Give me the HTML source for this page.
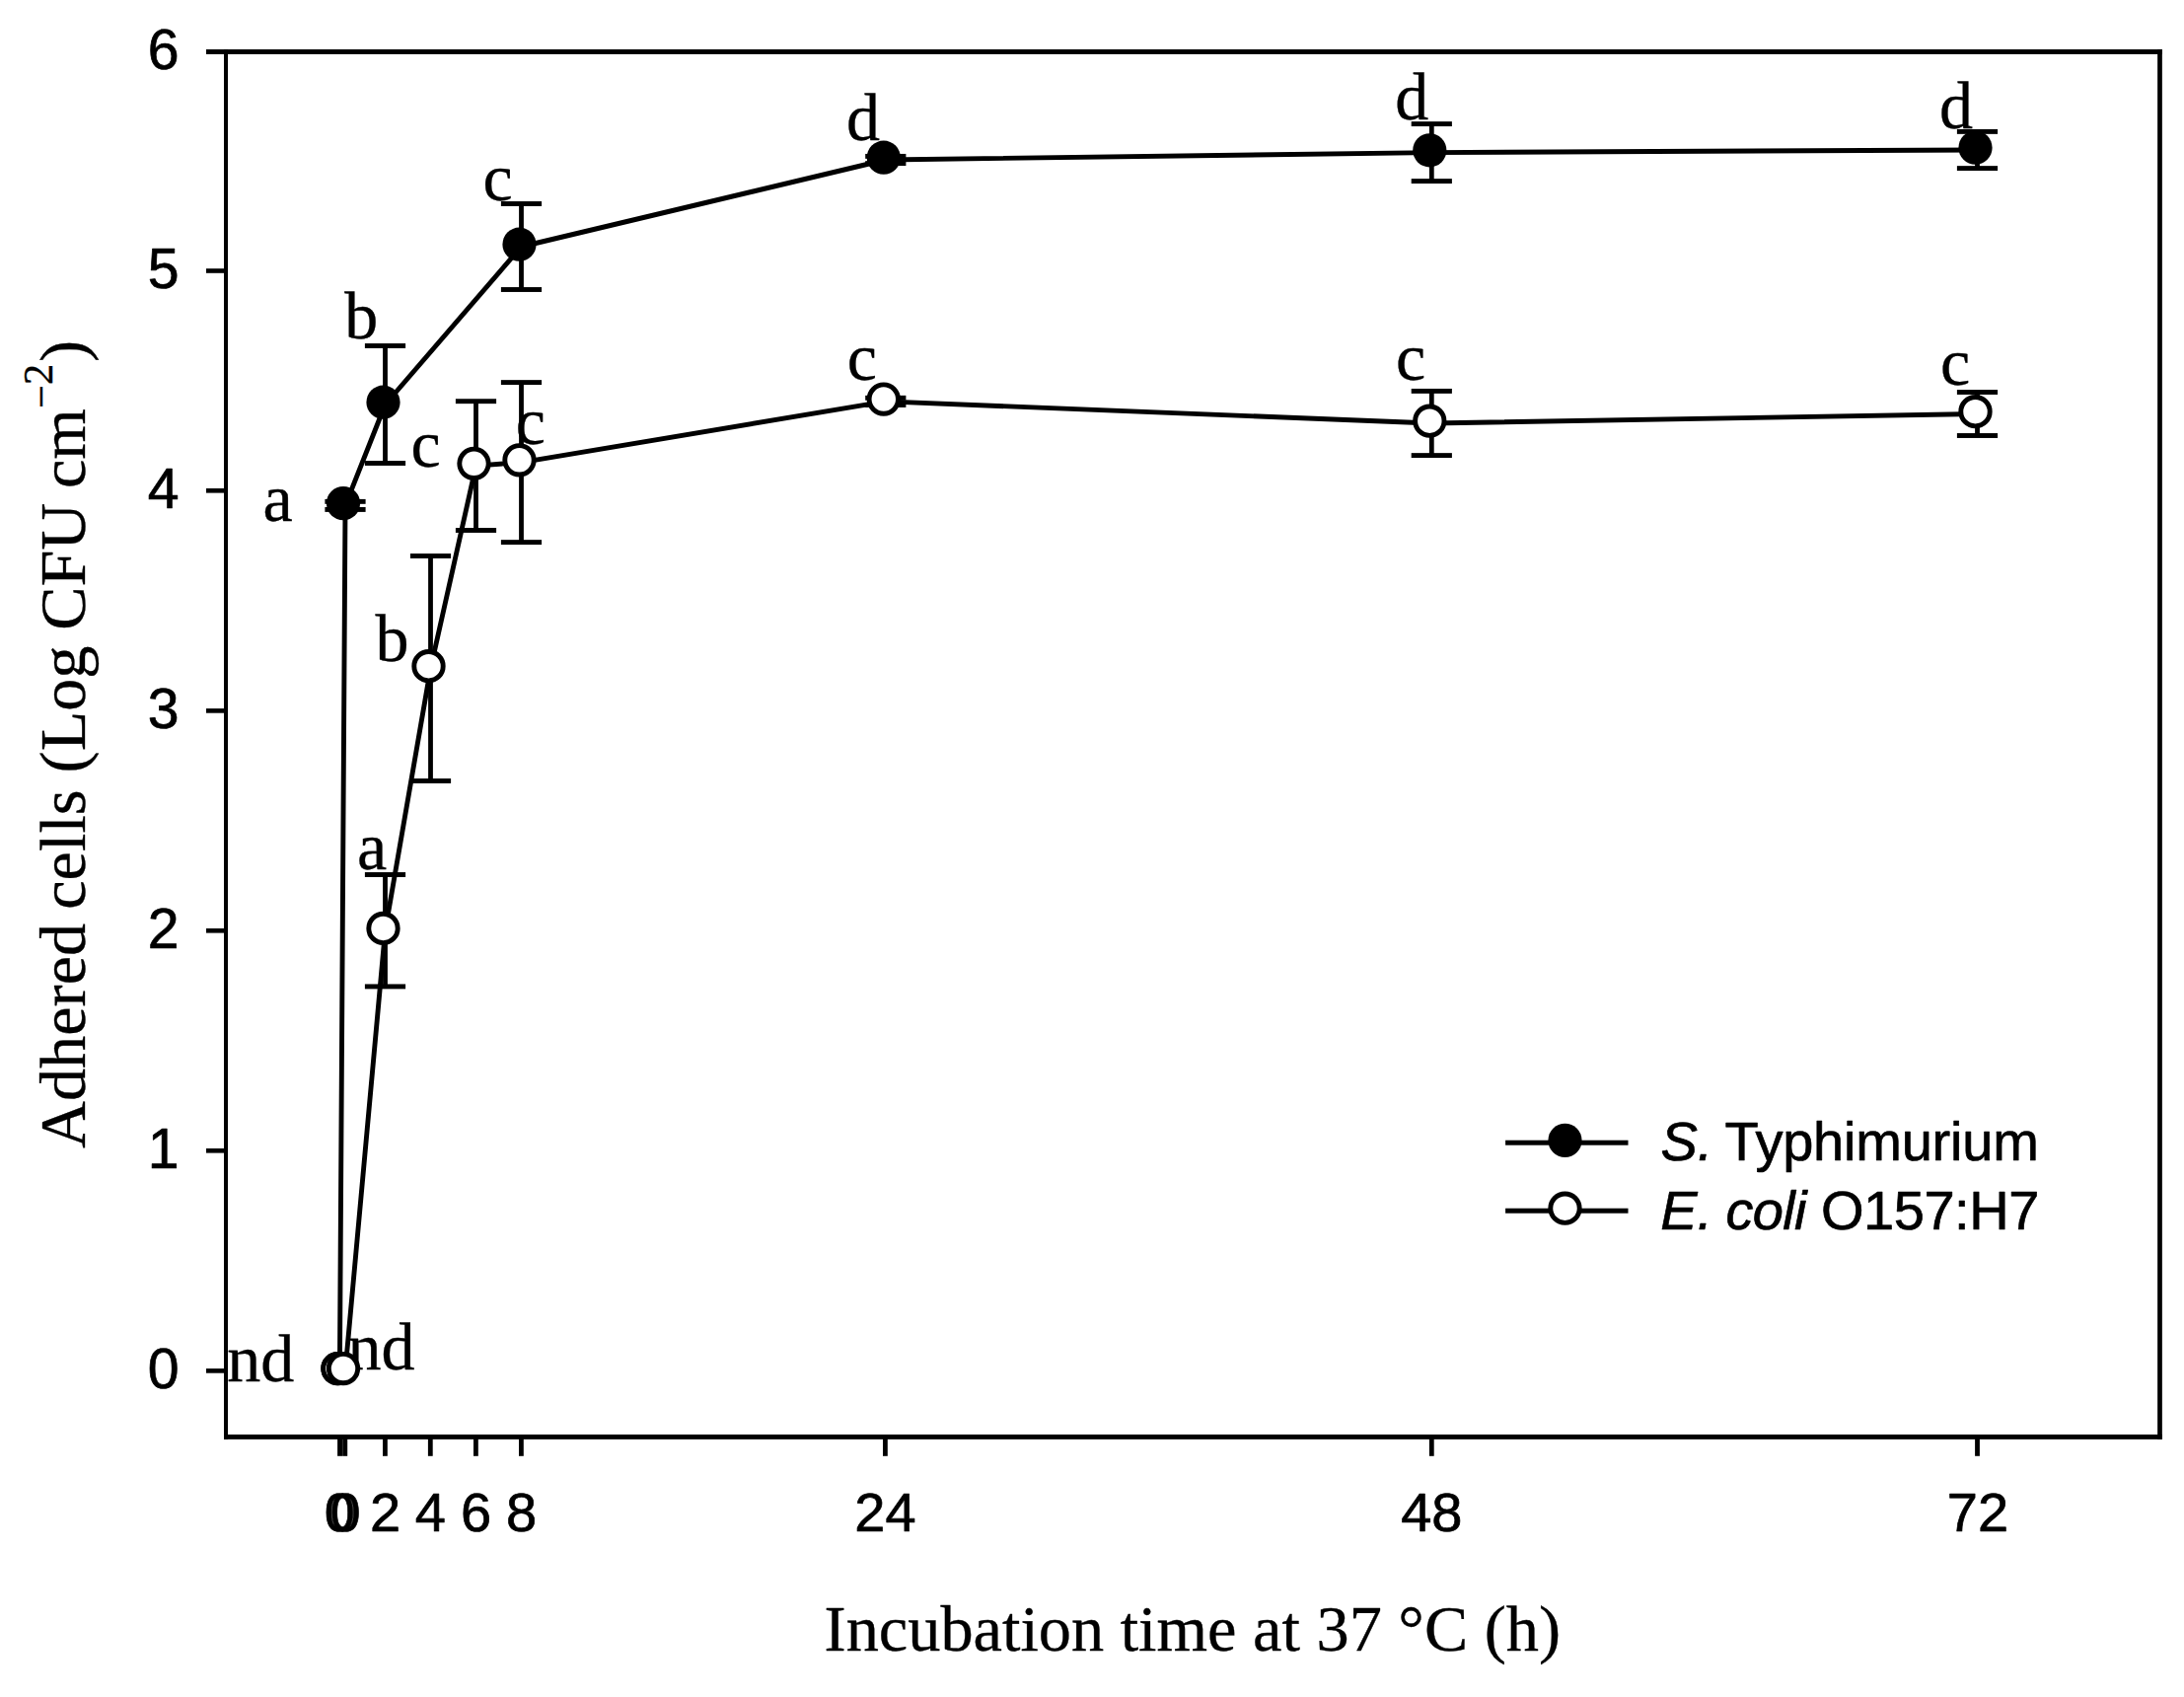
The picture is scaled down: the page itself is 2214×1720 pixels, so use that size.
<!DOCTYPE html>
<html lang="en"><head><meta charset="utf-8"><title>Adhered cells vs incubation time</title>
<style>html,body{margin:0;padding:0;background:#fff}svg{display:block}text{fill:#000;stroke:#000;stroke-linejoin:round}.sans{stroke-width:0.7px}.serif{stroke-width:0.35px}.sans{font-family:"Liberation Sans", sans-serif;}.serif{font-family:"Liberation Serif", serif;}</style></head><body>
<svg width="2214" height="1720" viewBox="0 0 2214 1720">
<rect x="0" y="0" width="2214" height="1720" fill="#fff"/>
<g id="axes">
<rect x="209.00" y="50.05" width="1982.80" height="4.90" fill="#000"/>
<rect x="227.00" y="1453.95" width="1964.80" height="4.90" fill="#000"/>
<rect x="227.00" y="50.10" width="4.00" height="1408.70" fill="#000"/>
<rect x="2187.15" y="50.10" width="4.70" height="1408.70" fill="#000"/>
<rect x="209.00" y="272.20" width="20.00" height="4.60" fill="#000"/>
<rect x="209.00" y="495.00" width="20.00" height="4.60" fill="#000"/>
<rect x="209.00" y="718.10" width="20.00" height="4.60" fill="#000"/>
<rect x="209.00" y="941.00" width="20.00" height="4.60" fill="#000"/>
<rect x="209.00" y="1164.00" width="20.00" height="4.60" fill="#000"/>
<rect x="209.00" y="1387.10" width="20.00" height="4.60" fill="#000"/>
<rect x="342.10" y="1456.00" width="5.00" height="19.80" fill="#000"/>
<rect x="347.20" y="1456.00" width="5.00" height="19.80" fill="#000"/>
<rect x="388.00" y="1456.00" width="4.80" height="19.80" fill="#000"/>
<rect x="433.90" y="1456.00" width="4.80" height="19.80" fill="#000"/>
<rect x="480.00" y="1456.00" width="4.80" height="19.80" fill="#000"/>
<rect x="526.00" y="1456.00" width="4.80" height="19.80" fill="#000"/>
<rect x="895.00" y="1456.00" width="4.80" height="19.80" fill="#000"/>
<rect x="1448.90" y="1456.00" width="4.80" height="19.80" fill="#000"/>
<rect x="2002.10" y="1456.00" width="4.80" height="19.80" fill="#000"/>
</g>
<g id="ticklabels" class="sans" font-size="56">
<text x="181.5" y="70.3" text-anchor="end" font-size="57.2">6</text>
<text x="181.5" y="292.3" text-anchor="end" font-size="57.2">5</text>
<text x="181.5" y="515.1" text-anchor="end" font-size="57.2">4</text>
<text x="181.5" y="738.2" text-anchor="end" font-size="57.2">3</text>
<text x="181.5" y="961.1" text-anchor="end" font-size="57.2">2</text>
<text x="181.5" y="1184.1" text-anchor="end" font-size="57.2">1</text>
<text x="181.5" y="1407.2" text-anchor="end" font-size="57.2">0</text>
<text x="344.4" y="1552" text-anchor="middle">0</text>
<text x="350.1" y="1552" text-anchor="middle">0</text>
<text x="390.5" y="1552" text-anchor="middle">2</text>
<text x="436.4" y="1552" text-anchor="middle">4</text>
<text x="482.5" y="1552" text-anchor="middle">6</text>
<text x="528.5" y="1552" text-anchor="middle">8</text>
<text x="897.4" y="1552" text-anchor="middle">24</text>
<text x="1451.3" y="1552" text-anchor="middle">48</text>
<text x="2005.0" y="1552" text-anchor="middle">72</text>
</g>
<g id="titles" class="serif" font-size="68">
<text x="835.6" y="1673" font-size="66.3">Incubation time at 37 °C (h)</text>
<text transform="translate(86,0) rotate(-90)" font-size="66.3"><tspan x="-1164">Adhered</tspan><tspan dx="-2.7"> cells</tspan><tspan dx="0.4"> (Log</tspan><tspan dx="-0.9"> CFU</tspan><tspan dx="-1.8"> cm</tspan><tspan x="-414" dy="-30" font-size="42.5">−</tspan><tspan dy="-3" font-size="42.5">2</tspan><tspan x="-367" dy="33">)</tspan></text>
</g>
<g id="letters" class="serif" font-size="68">
<text x="230.2" y="1400.0">nd</text>
<text x="352.5" y="1388.0">nd</text>
<text x="266.4" y="528.0">a</text>
<text x="349.2" y="342.5">b</text>
<text x="489.6" y="203.0">c</text>
<text x="857.9" y="141.5">d</text>
<text x="1414.2" y="120.8">d</text>
<text x="1966.0" y="129.8">d</text>
<text x="362.1" y="880.5">a</text>
<text x="380.4" y="669.5">b</text>
<text x="416.4" y="472.6">c</text>
<text x="522.7" y="450.4">c</text>
<text x="858.7" y="384.6">c</text>
<text x="1415.1" y="384.6">c</text>
<text x="1967.1" y="390.0">c</text>
</g>
<g id="series-st">
<polyline points="344.4,1389.4 350.0,512.4 390.5,410.0 528.5,250.0 897.8,162.0 1451.3,154.6 2004.5,152.0" fill="none" stroke="#000" stroke-width="4.9" stroke-linejoin="round"/>
<rect x="347.60" y="508.35" width="4.80" height="8.10" fill="#000"/>
<rect x="329.40" y="505.90" width="41.20" height="4.90" fill="#000"/>
<rect x="329.40" y="514.00" width="41.20" height="4.90" fill="#000"/>
<rect x="388.10" y="350.50" width="4.80" height="119.00" fill="#000"/>
<rect x="369.90" y="348.05" width="41.20" height="4.90" fill="#000"/>
<rect x="369.90" y="467.05" width="41.20" height="4.90" fill="#000"/>
<rect x="526.10" y="206.50" width="4.80" height="87.00" fill="#000"/>
<rect x="507.90" y="204.05" width="41.20" height="4.90" fill="#000"/>
<rect x="507.90" y="291.05" width="41.20" height="4.90" fill="#000"/>
<rect x="895.40" y="158.40" width="4.80" height="7.20" fill="#000"/>
<rect x="877.20" y="155.95" width="41.20" height="4.90" fill="#000"/>
<rect x="877.20" y="163.15" width="41.20" height="4.90" fill="#000"/>
<rect x="1448.90" y="125.60" width="4.80" height="58.00" fill="#000"/>
<rect x="1430.70" y="123.15" width="41.20" height="4.90" fill="#000"/>
<rect x="1430.70" y="181.15" width="41.20" height="4.90" fill="#000"/>
<rect x="2002.10" y="133.40" width="4.80" height="37.20" fill="#000"/>
<rect x="1983.90" y="130.95" width="41.20" height="4.90" fill="#000"/>
<rect x="1983.90" y="168.15" width="41.20" height="4.90" fill="#000"/>
<circle cx="342.4" cy="1387.1" r="17.1" fill="#000"/>
<circle cx="348.0" cy="510.1" r="17.1" fill="#000"/>
<circle cx="388.5" cy="407.7" r="17.1" fill="#000"/>
<circle cx="526.5" cy="247.7" r="17.1" fill="#000"/>
<circle cx="895.8" cy="159.7" r="17.1" fill="#000"/>
<circle cx="1449.3" cy="152.3" r="17.1" fill="#000"/>
<circle cx="2002.5" cy="149.7" r="17.1" fill="#000"/>
</g>
<g id="series-ec">
<polyline points="350.0,1389.4 390.5,943.2 436.5,677.5 482.5,472.1 528.5,468.6 897.8,406.9 1451.3,429.0 2004.5,419.5" fill="none" stroke="#000" stroke-width="4.9" stroke-linejoin="round"/>
<rect x="388.10" y="886.50" width="4.80" height="113.40" fill="#000"/>
<rect x="369.90" y="884.05" width="41.20" height="4.90" fill="#000"/>
<rect x="369.90" y="997.45" width="41.20" height="4.90" fill="#000"/>
<rect x="434.10" y="563.50" width="4.80" height="228.00" fill="#000"/>
<rect x="415.90" y="561.05" width="41.20" height="4.90" fill="#000"/>
<rect x="415.90" y="789.05" width="41.20" height="4.90" fill="#000"/>
<rect x="480.10" y="406.70" width="4.80" height="130.80" fill="#000"/>
<rect x="461.90" y="404.25" width="41.20" height="4.90" fill="#000"/>
<rect x="461.90" y="535.05" width="41.20" height="4.90" fill="#000"/>
<rect x="526.10" y="387.60" width="4.80" height="162.00" fill="#000"/>
<rect x="507.90" y="385.15" width="41.20" height="4.90" fill="#000"/>
<rect x="507.90" y="547.15" width="41.20" height="4.90" fill="#000"/>
<rect x="895.40" y="403.30" width="4.80" height="7.20" fill="#000"/>
<rect x="877.20" y="400.85" width="41.20" height="4.90" fill="#000"/>
<rect x="877.20" y="408.05" width="41.20" height="4.90" fill="#000"/>
<rect x="1448.90" y="396.40" width="4.80" height="65.20" fill="#000"/>
<rect x="1430.70" y="393.95" width="41.20" height="4.90" fill="#000"/>
<rect x="1430.70" y="459.15" width="41.20" height="4.90" fill="#000"/>
<rect x="2002.10" y="397.50" width="4.80" height="44.00" fill="#000"/>
<rect x="1983.90" y="395.05" width="41.20" height="4.90" fill="#000"/>
<rect x="1983.90" y="439.05" width="41.20" height="4.90" fill="#000"/>
<circle cx="342.4" cy="1387.1" r="14.7" fill="#fff" stroke="#000" stroke-width="4.9"/>
<circle cx="348.0" cy="1387.1" r="14.7" fill="#fff" stroke="#000" stroke-width="4.9"/>
<circle cx="388.5" cy="940.9" r="14.7" fill="#fff" stroke="#000" stroke-width="4.9"/>
<circle cx="434.5" cy="675.2" r="14.7" fill="#fff" stroke="#000" stroke-width="4.9"/>
<circle cx="480.5" cy="469.8" r="14.7" fill="#fff" stroke="#000" stroke-width="4.9"/>
<circle cx="526.5" cy="466.3" r="14.7" fill="#fff" stroke="#000" stroke-width="4.9"/>
<circle cx="895.8" cy="404.6" r="14.7" fill="#fff" stroke="#000" stroke-width="4.9"/>
<circle cx="1449.3" cy="426.7" r="14.7" fill="#fff" stroke="#000" stroke-width="4.9"/>
<circle cx="2002.5" cy="417.2" r="14.7" fill="#fff" stroke="#000" stroke-width="4.9"/>
</g>
<g id="legend">
<rect x="1526.10" y="1155.70" width="124.40" height="5.00" fill="#000"/>
<circle cx="1586.5" cy="1155.9" r="17.1" fill="#000"/>
<rect x="1526.10" y="1224.70" width="124.40" height="5.00" fill="#000"/>
<circle cx="1586.5" cy="1224.7" r="14.7" fill="#fff" stroke="#000" stroke-width="4.9"/>
<g class="sans" font-size="56">
<text y="1176.3"><tspan x="1683.4" font-style="italic">S.</tspan> <tspan x="1748.5" textLength="318.3" lengthAdjust="spacing">Typhimurium</tspan></text>
<text y="1245.6"><tspan x="1683.2" font-style="italic">E.</tspan> <tspan x="1749.6" font-style="italic" textLength="81.8" lengthAdjust="spacing">coli</tspan> <tspan x="1846.0" textLength="221.3" lengthAdjust="spacing">O157:H7</tspan></text>
</g></g>
</svg></body></html>
